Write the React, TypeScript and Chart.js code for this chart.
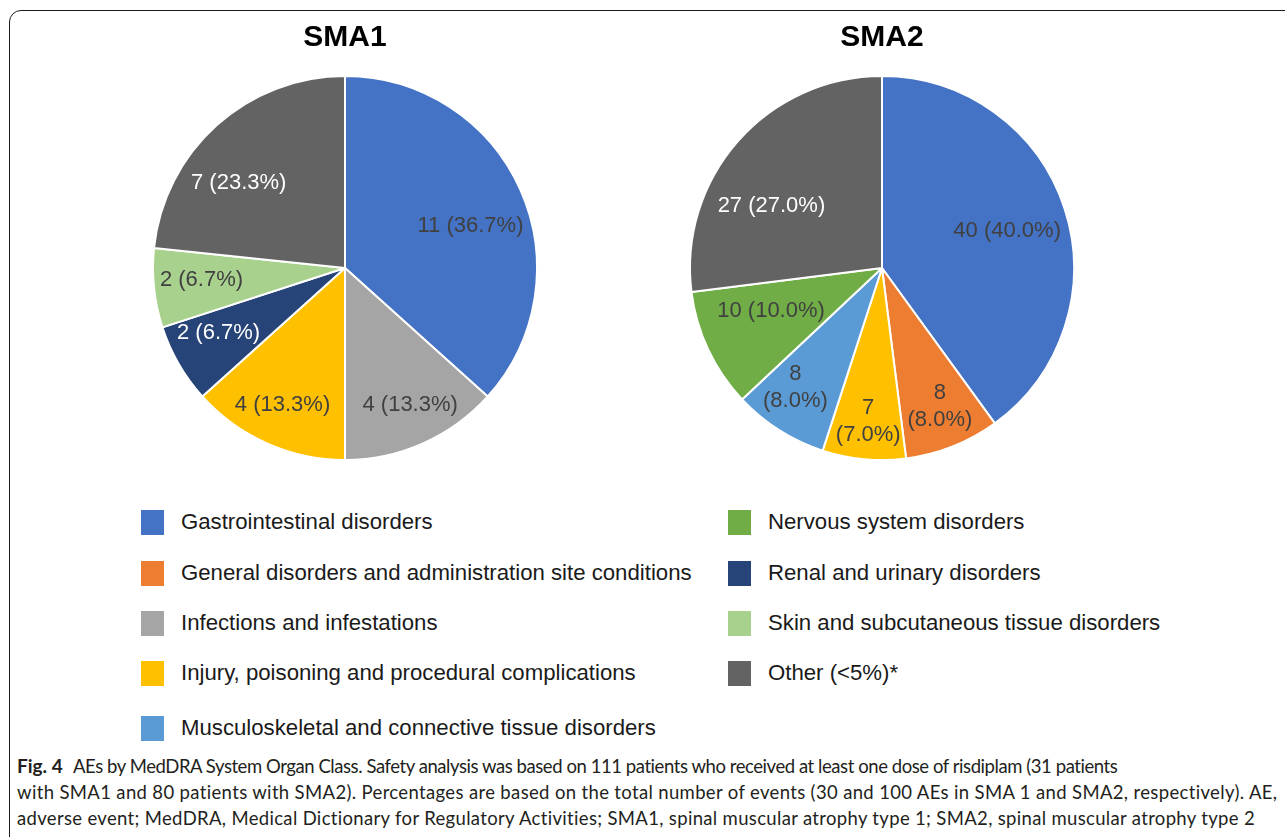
import React, { useEffect, useLayoutEffect, useRef } from "react";
import { Chart, registerables } from "chart.js";

Chart.register(...registerables);

// ---- Data ----
const legendLeft = [
  "Gastrointestinal disorders",
  "General disorders and administration site conditions",
  "Infections and infestations",
  "Injury, poisoning and procedural complications",
  "Musculoskeletal and connective tissue disorders",
];
const legendRight = [
  "Nervous system disorders",
  "Renal and urinary disorders",
  "Skin and subcutaneous tissue disorders",
  "Other (<5%)*",
];
const categoryColors: Record<string, string> = {
  "Gastrointestinal disorders": "#4472C4",
  "General disorders and administration site conditions": "#ED7D31",
  "Infections and infestations": "#A5A5A5",
  "Injury, poisoning and procedural complications": "#FFC000",
  "Musculoskeletal and connective tissue disorders": "#5B9BD5",
  "Nervous system disorders": "#70AD47",
  "Renal and urinary disorders": "#264478",
  "Skin and subcutaneous tissue disorders": "#A9D18E",
  "Other (<5%)*": "#636363",
};
const darkCategories = ["Renal and urinary disorders", "Other (<5%)*"];

const sma1Categories = [
  "Gastrointestinal disorders",
  "Infections and infestations",
  "Injury, poisoning and procedural complications",
  "Renal and urinary disorders",
  "Skin and subcutaneous tissue disorders",
  "Other (<5%)*",
];
const sma1Values = [11, 4, 4, 2, 2, 7];

const sma2Categories = [
  "Gastrointestinal disorders",
  "General disorders and administration site conditions",
  "Injury, poisoning and procedural complications",
  "Musculoskeletal and connective tissue disorders",
  "Nervous system disorders",
  "Other (<5%)*",
];
const sma2Values = [40, 8, 7, 8, 10, 27];

const captionLines = [
  "AEs by MedDRA System Organ Class. Safety analysis was based on 111 patients who received at least one dose of risdiplam (31 patients",
  "with SMA1 and 80 patients with SMA2). Percentages are based on the total number of events (30 and 100 AEs in SMA 1 and SMA2, respectively). AE,",
  "adverse event; MedDRA, Medical Dictionary for Regulatory Activities; SMA1, spinal muscular atrophy type 1; SMA2, spinal muscular atrophy type 2",
];

// ---- label plugin ----
const pieLabels = {
  id: "pieLabels",
  afterDatasetsDraw(chart: any, _args: any, opts: any) {
    const ctx = chart.ctx;
    const meta = chart.getDatasetMeta(0);
    const values: number[] = chart.data.datasets[0].data;
    const cats: string[] = chart.data.labels;
    const total = values.reduce((a, b) => a + b, 0);
    ctx.save();
    ctx.font = "22px 'Liberation Sans', Arial, sans-serif";
    ctx.textAlign = "center";
    ctx.textBaseline = "middle";
    meta.data.forEach((arc: any, i: number) => {
      const { x, y, startAngle, endAngle, outerRadius } = arc.getProps(
        ["x", "y", "startAngle", "endAngle", "outerRadius"],
        true
      );
      const af = opts.angleFracs ? opts.angleFracs[i] : 0.5;
      const ang = startAngle + (endAngle - startAngle) * af;
      const f = opts.radiusFactors ? opts.radiusFactors[i] : 0.7;
      const lx = x + Math.cos(ang) * outerRadius * f;
      const ly = y + Math.sin(ang) * outerRadius * f;
      const v = values[i];
      const pct = ((v / total) * 100).toFixed(1) + "%";
      ctx.fillStyle = darkCategories.includes(cats[i]) ? "#ffffff" : "#404040";
      if (opts.wrap && opts.wrap[i]) {
        ctx.fillText(String(v), lx, ly - 13.5);
        ctx.fillText("(" + pct + ")", lx, ly + 13.5);
      } else {
        ctx.fillText(v + " (" + pct + ")", lx, ly);
      }
    });
    ctx.restore();
  },
};

function PieChart(props: {
  title: string;
  cats: string[];
  values: number[];
  radiusFactors: number[];
  angleFracs: number[];
  wrap: boolean[];
  left: number;
}) {
  const ref = useRef<HTMLCanvasElement | null>(null);
  useEffect(() => {
    if (!ref.current) return;
    const chart = new Chart(ref.current, {
      type: "pie",
      data: {
        labels: props.cats,
        datasets: [
          {
            data: props.values,
            backgroundColor: props.cats.map((c) => categoryColors[c]),
            borderColor: "#ffffff",
            borderWidth: 2,
          },
        ],
      },
      options: {
        animation: false,
        responsive: false,
        maintainAspectRatio: false,
        radius: 192,
        layout: { padding: 0 },
        plugins: {
          legend: { display: false },
          tooltip: { enabled: false },
          title: {
            display: true,
            text: props.title,
            color: "#000000",
            font: { family: "'Liberation Sans', Arial, sans-serif", size: 30, weight: "bold" },
            padding: { top: 10, bottom: 10 },
          },
          pieLabels: {
            radiusFactors: props.radiusFactors,
            angleFracs: props.angleFracs,
            wrap: props.wrap,
          },
        } as any,
      },
      plugins: [pieLabels],
    });
    return () => chart.destroy();
  }, []);
  return (
    <canvas
      ref={ref}
      width={400}
      height={460}
      style={{ position: "absolute", left: props.left, top: 10, width: 400, height: 460 }}
    />
  );
}

function LegendItem(props: { label: string; x: number; y: number }) {
  return (
    <div
      style={{
        position: "absolute",
        left: props.x,
        top: props.y - 13,
        height: 26,
        display: "flex",
        alignItems: "center",
        whiteSpace: "nowrap",
      }}
    >
      <div style={{ width: 23, height: 25, background: categoryColors[props.label] }} />
      <span
        style={{
          marginLeft: 17,
          fontFamily: "'Liberation Sans', Arial, sans-serif",
          fontSize: 22.2,
          color: "#1a1a1a",
        }}
      >
        {props.label}
      </span>
    </div>
  );
}

const captionEnds = [1118, 1278, 1256];

function Caption() {
  const refs = useRef<(HTMLSpanElement | null)[]>([]);
  useLayoutEffect(() => {
    const fit = () => {
      refs.current.forEach((el, i) => {
        if (!el) return;
        el.style.letterSpacing = "0px";
        const r = el.getBoundingClientRect().right;
        const n = (el.textContent || "").length;
        const ls = (captionEnds[i] - r) / n;
        el.style.letterSpacing = ls + "px";
      });
    };
    fit();
    if ((document as any).fonts && (document as any).fonts.ready) {
      (document as any).fonts.ready.then(fit);
    }
  }, []);
  const base: React.CSSProperties = {
    position: "absolute",
    fontFamily: "Lato, 'Open Sans', sans-serif",
    fontSize: 18.5,
    lineHeight: "26px",
    color: "#231f20",
    whiteSpace: "nowrap",
  };
  return (
    <>
      <div style={{ ...base, left: 17, top: 753, fontWeight: "bold", fontSize: 19 }}>Fig. 4</div>
      <div style={{ ...base, left: 73, top: 753 }}>
        <span ref={(e) => (refs.current[0] = e)}>{captionLines[0]}</span>
      </div>
      <div style={{ ...base, left: 17, top: 779 }}>
        <span ref={(e) => (refs.current[1] = e)}>{captionLines[1]}</span>
      </div>
      <div style={{ ...base, left: 17, top: 805 }}>
        <span ref={(e) => (refs.current[2] = e)}>{captionLines[2]}</span>
      </div>
    </>
  );
}

export default function App() {
  const rowY = [522, 573, 623, 673, 728];
  return (
    <div
      style={{
        position: "fixed",
        left: 0,
        top: 0,
        width: 1285,
        height: 837,
        overflow: "hidden",
        background: "#fff",
      }}
    >
      <div
        style={{
          position: "absolute",
          left: 9,
          top: 10,
          width: 1320,
          height: 900,
          border: "1.5px solid #1a1a1a",
          borderRadius: 12,
          boxSizing: "border-box",
        }}
      />
      <PieChart
        title="SMA1"
        cats={sma1Categories}
        values={sma1Values}
        radiusFactors={[0.69, 0.79, 0.785, 0.74, 0.75, 0.71]}
        angleFracs={[0.54, 0.47, 0.51, 0.62, 0.55, 0.39]}
        wrap={[false, false, false, false, false, false]}
        left={145}
      />
      <PieChart
        title="SMA2"
        cats={sma2Categories}
        values={sma2Values}
        radiusFactors={[0.68, 0.78, 0.8, 0.77, 0.62, 0.66]}
        angleFracs={[0.51, 0.46, 0.49, 0.62, 0.61, 0.375]}
        wrap={[false, true, true, true, false, false]}
        left={682}
      />
      {legendLeft.map((l, i) => (
        <LegendItem key={l} label={l} x={141} y={rowY[i]} />
      ))}
      {legendRight.map((l, i) => (
        <LegendItem key={l} label={l} x={728} y={rowY[i]} />
      ))}
      <Caption />
    </div>
  );
}
